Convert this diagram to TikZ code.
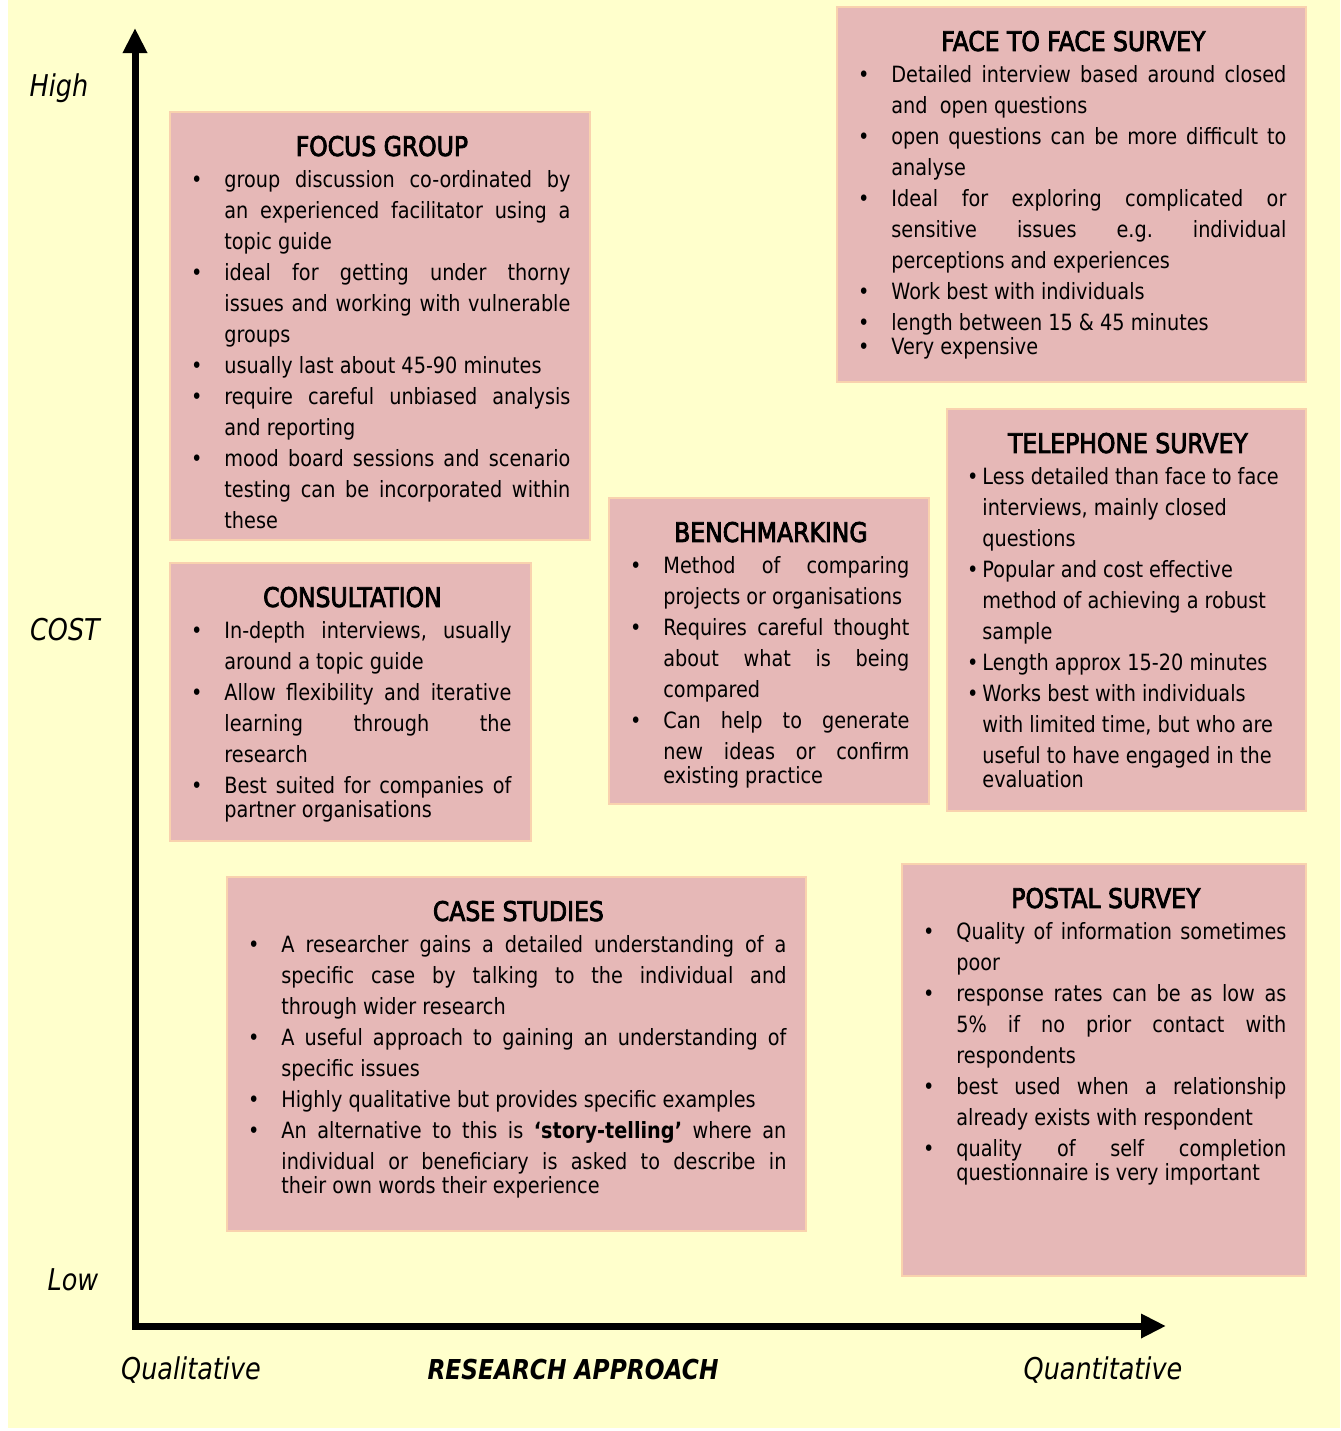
\documentclass[tikz,border=0pt]{standalone}
\usepackage{fontspec}
\setmainfont{DejaVu Sans}[FakeStretch=0.86]
\newfontfamily\titlefont{DejaVu Sans}[FakeStretch=0.87,FakeBold=3]
\newfontfamily\axisfont{DejaVu Sans}[FakeStretch=0.85]
\usetikzlibrary{arrows.meta}

\definecolor{paper}{HTML}{FFFFCC}
\definecolor{cardfill}{HTML}{E6B8B7}
\definecolor{cardline}{HTML}{F9D2AE}

\hyphenpenalty=10000
\exhyphenpenalty=10000
\tolerance=9999
\frenchspacing

% card parts
\newcommand\cardtitle[1]{{\centering\titlefont\fontsize{13.5pt}{16pt}\selectfont #1\par}\vspace{0.25pt}}
\newcommand\bitem{\par\noindent\hangindent=15.5pt\hangafter=1\makebox[15.5pt][l]{\kern-1.2pt\textbullet}\ignorespaces}
\newcommand\titem{\par\noindent\hangindent=6.5pt\hangafter=1\makebox[6.5pt][l]{\kern-1.2pt\textbullet}\ignorespaces}
\newcommand\lastbitem[1]{\par{\baselineskip=12pt\bitem #1\par}}
\newcommand\tailline[2]{{\parfillskip=0pt\par}{\baselineskip=12pt\noindent\hskip#1\relax #2\par}}

\begin{document}
\begin{tikzpicture}[x=0.5pt,y=-0.5pt,
    card/.style={draw=cardline, fill=cardfill, line width=1pt, inner sep=0pt, anchor=north west},
    cardtext/.style={inner sep=0pt, anchor=north west, align=justify, font=\fontsize{11.2pt}{15.5pt}\selectfont},
    axisline/.style={line width=3.5pt, line join=miter, {Triangle[width=11.5pt,length=12.5pt]}-{Triangle[width=11.5pt,length=12.5pt]}},
    axislabel/.style={inner sep=0pt, font=\axisfont\itshape\fontsize{15pt}{17pt}\selectfont}]

    \useasboundingbox (0,0) rectangle (1340,1431);
    \fill[paper] (8,0) rectangle (1340,1428);

    % Axes
    \coordinate (origin) at (135,1326);
    \coordinate (costtip) at (135,28);
    \coordinate (approachtip) at (1166,1326);
    \draw[axisline] (costtip) -- (origin) -- (approachtip);

    % Axis labels
    \node[axislabel] (high) at (59,88) {High};
    \node[axislabel] (cost) at (65,630) {COST};
    \node[axislabel] (low) at (73,1280) {Low};
    \node[axislabel] (qual) at (191,1370) {Qualitative};
    \node[axislabel, font=\axisfont\bfseries\itshape\fontsize{13.7pt}{16pt}\selectfont] (approach) at (573,1370) {RESEARCH APPROACH};
    \node[axislabel] (quant) at (1103,1370) {Quantitative};

    % Focus group
    \node[card, minimum width=210pt, minimum height=214pt] (focus) at (169,111) {};
    \node[cardtext, text width=188.5pt] (focustext) at ([shift={(24,24.5)}]focus.north west) {%
        \cardtitle{FOCUS GROUP}
        \bitem group discussion co-ordinated by \linebreak an experienced facilitator using a \linebreak topic guide
        \bitem ideal for getting under thorny \linebreak issues and working with vulnerable \linebreak groups
        \bitem usually last about 45-90 minutes
        \bitem require careful unbiased analysis \linebreak and reporting
        \bitem mood board sessions and scenario \linebreak testing can be incorporated within \linebreak these\par};

    % Face to face survey
    \node[card, minimum width=234.5pt, minimum height=187.5pt] (face) at (836,6) {};
    \node[cardtext, text width=213pt] (facetext) at ([shift={(24,24.5)}]face.north west) {%
        \cardtitle{FACE TO FACE SURVEY}
        \bitem Detailed interview based around closed \linebreak and\ \ open questions
        \bitem open questions can be more difficult to \linebreak analyse
        \bitem Ideal for exploring complicated or \linebreak sensitive issues e.g. individual \linebreak perceptions and experiences
        \bitem Work best with individuals
        \bitem length between 15 \& 45 minutes
        \lastbitem{Very expensive}};

    % Telephone survey
    \node[card, minimum width=179.5pt, minimum height=201pt] (phone) at (946,408) {};
    \node[cardtext, align=flush left, text width=158.5pt] (phonetext) at ([shift={(23,24.5)}]phone.north west) {%
        \cardtitle{TELEPHONE SURVEY}
        \titem Less detailed than face to face\newline interviews, mainly closed\newline questions
        \titem Popular and cost effective\newline method of achieving a robust\newline sample
        \titem Length approx 15-20 minutes
        \titem Works best with individuals\newline with limited time, but who are\newline useful to have engaged in the
        \tailline{6.5pt}{evaluation}};

    % Benchmarking
    \node[card, minimum width=160pt, minimum height=153pt] (bench) at (608,497) {};
    \node[cardtext, text width=138.5pt] (benchtext) at ([shift={(24,24.5)}]bench.north west) {%
        \cardtitle{BENCHMARKING}
        \bitem Method of comparing \linebreak projects or organisations
        \bitem Requires careful thought \linebreak about what is being \linebreak compared
        \bitem Can help to generate \linebreak new ideas or confirm
        \tailline{15.5pt}{existing practice}};

    % Consultation
    \node[card, minimum width=180.5pt, minimum height=139pt] (consult) at (169,562) {};
    \node[cardtext, text width=159pt] (consulttext) at ([shift={(24,24.5)}]consult.north west) {%
        \cardtitle{CONSULTATION}
        \bitem In-depth interviews, usually \linebreak around a topic guide
        \bitem Allow flexibility and iterative \linebreak learning through the \linebreak research
        \bitem Best suited for companies of
        \tailline{15.5pt}{partner organisations}};

    % Case studies
    \node[card, minimum width=289.5pt, minimum height=177pt] (cases) at (226,876) {};
    \node[cardtext, text width=268pt] (casestext) at ([shift={(24,24.5)}]cases.north west) {%
        \cardtitle{CASE STUDIES}
        \bitem A researcher gains a detailed understanding of a \linebreak specific case by talking to the individual and \linebreak through wider research
        \bitem A useful approach to gaining an understanding of \linebreak specific issues
        \bitem Highly qualitative but provides specific examples
        \bitem An alternative to this is \textbf{‘story-telling’} where an \linebreak individual or beneficiary is asked to describe in
        \tailline{15.5pt}{their own words their experience}};

    % Postal survey
    \node[card, minimum width=202pt, minimum height=206pt] (postal) at (901,863) {};
    \node[cardtext, text width=180.5pt] (postaltext) at ([shift={(24,24.5)}]postal.north west) {%
        \cardtitle{POSTAL SURVEY}
        \bitem Quality of information sometimes \linebreak poor
        \bitem response rates can be as low as \linebreak 5\% if no prior contact with \linebreak respondents
        \bitem best used when a relationship \linebreak already exists with respondent
        \bitem quality of self completion
        \tailline{15.5pt}{questionnaire is very important}};
\end{tikzpicture}
\end{document}
